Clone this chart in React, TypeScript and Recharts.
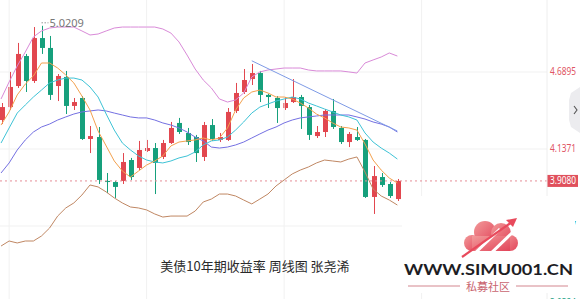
import React from 'react';
import { ComposedChart, Bar, Line, XAxis, YAxis, CartesianGrid, ReferenceLine, ReferenceDot } from 'recharts';

// ---- data (weekly bars, US 10Y yield) ----
const categories = Array.from({ length: 68 }, (_, i) => `W${i + 1}`);

const open = [4.345,4.438,4.589,4.804,4.625,4.933,4.862,4.589,4.654,4.446,4.503,4.209,4.223,3.908,3.900,3.908,4.058,4.001,4.123,4.144,4.080,4.180,4.324,4.252,4.223,4.080,4.309,4.202,4.202,4.410,4.546,4.639,4.682,4.525,4.503,4.431,4.474,4.510,4.438,4.230,4.259,4.410,4.288,4.187,4.223,4.202,3.793,3.936,3.886,3.778];
const close = [4.438,4.582,4.819,4.625,4.933,4.862,4.525,4.661,4.446,4.474,4.209,4.230,3.915,3.900,3.865,4.044,3.936,4.130,4.144,4.037,4.180,4.288,4.259,4.187,4.108,4.309,4.209,4.223,4.403,4.539,4.632,4.682,4.525,4.510,4.431,4.467,4.510,4.446,4.238,4.259,4.410,4.295,4.187,4.245,4.202,3.793,3.943,3.879,3.800,3.908];
const high = [4.467,4.690,4.898,4.819,5.012,5.0209,4.948,4.675,4.697,4.503,4.517,4.302,4.295,3.965,3.908,4.108,4.073,4.195,4.202,4.180,4.202,4.331,4.360,4.288,4.238,4.331,4.352,4.252,4.431,4.611,4.711,4.747,4.697,4.532,4.517,4.510,4.639,4.525,4.453,4.302,4.424,4.496,4.302,4.259,4.295,4.209,4.015,3.965,3.900,3.922];
const low = [4.316,4.417,4.575,4.546,4.611,4.819,4.489,4.481,4.388,4.417,4.202,4.108,3.886,3.821,3.786,3.886,3.915,3.986,4.116,3.814,4.065,4.173,4.245,4.166,4.044,4.051,4.195,4.187,4.195,4.395,4.532,4.596,4.474,4.431,4.324,4.417,4.467,4.281,4.202,4.216,4.223,4.281,4.173,4.151,4.195,3.786,3.671,3.865,3.786,3.764];

const ma5 = [4.309,4.403,4.525,4.603,4.661,4.754,4.754,4.718,4.668,4.611,4.517,4.417,4.266,4.159,4.051,3.979,3.936,3.979,4.022,4.051,4.087,4.159,4.187,4.195,4.202,4.216,4.202,4.216,4.288,4.417,4.503,4.546,4.560,4.539,4.510,4.510,4.496,4.467,4.431,4.388,4.360,4.324,4.295,4.288,4.273,4.173,4.058,3.986,3.929,3.893];
const ma10 = [4.180,4.288,4.395,4.453,4.510,4.560,4.611,4.632,4.646,4.646,4.632,4.582,4.510,4.388,4.273,4.180,4.130,4.087,4.058,4.044,4.037,4.051,4.073,4.087,4.116,4.166,4.195,4.202,4.223,4.273,4.331,4.395,4.438,4.460,4.481,4.496,4.510,4.496,4.467,4.446,4.424,4.403,4.381,4.367,4.345,4.252,4.187,4.144,4.108,4.065];
const ma20 = [3.965,4.037,4.130,4.202,4.259,4.295,4.316,4.345,4.367,4.388,4.403,4.410,4.417,4.410,4.395,4.381,4.367,4.360,4.360,4.345,4.324,4.309,4.288,4.259,4.223,4.195,4.151,4.144,4.151,4.166,4.187,4.216,4.245,4.273,4.295,4.324,4.345,4.360,4.367,4.374,4.381,4.381,4.381,4.381,4.367,4.352,4.331,4.316,4.295,4.259];
const bollUpper = [4.496,4.618,4.733,4.833,4.941,4.984,5.005,5.012,5.012,5.012,4.984,4.955,4.962,4.984,5.005,5.012,5.012,5.012,5.012,5.012,4.998,4.969,4.905,4.811,4.711,4.632,4.575,4.496,4.474,4.489,4.539,4.654,4.690,4.704,4.711,4.718,4.718,4.718,4.704,4.697,4.697,4.697,4.697,4.690,4.682,4.754,4.776,4.797,4.826,4.804];
const bollLower = [3.441,3.477,3.463,3.477,3.477,3.513,3.570,3.656,3.714,3.750,3.807,3.879,3.865,3.829,3.786,3.750,3.721,3.714,3.700,3.671,3.649,3.656,3.656,3.656,3.692,3.757,3.778,3.814,3.814,3.800,3.771,3.743,3.778,3.814,3.872,3.915,3.958,3.986,4.008,4.037,4.058,4.051,4.044,4.065,4.080,3.972,3.850,3.800,3.771,3.735];
// hand-drawn resistance line (two anchor points)
const trendLine: (number | null)[] = [null,null,null,null,null,null,null,null,null,null,null,null,null,null,null,null,null,null,null,null,null,null,null,null,null,null,null,null,null,null,null,4.770,null,null,null,null,null,null,null,null,null,null,null,null,null,null,null,null,null,4.266];

const yTicks = [3.0324, 3.5847, 4.1371, 4.6895, 5.2419];
const gridWeeks = ['W2', 'W19', 'W36', 'W53'];
const lastPrice = 3.908;
const peakLabel = '5.0209';
const peakWeek = 'W6';
const title = '美债10年期收益率 周线图 张尧浠';

const data = categories.map((name, i) => ({
  name,
  range: i < open.length ? [low[i], high[i]] : null,
  open: i < open.length ? open[i] : null,
  close: i < close.length ? close[i] : null,
  high: i < high.length ? high[i] : null,
  low: i < low.length ? low[i] : null,
  ma5: i < ma5.length ? ma5[i] : null,
  ma10: i < ma10.length ? ma10[i] : null,
  ma20: i < ma20.length ? ma20[i] : null,
  up: i < bollUpper.length ? bollUpper[i] : null,
  dn: i < bollLower.length ? bollLower[i] : null,
  trend: i < trendLine.length ? trendLine[i] : null,
}));

const RED = '#e2474f';
const GREEN = '#16a07c';

const NoDot = (p: any) => <g key={`nd-${p.index}`} />;

const Candle = (props: any) => {
  const { x, y, width, height, payload } = props;
  if (!payload || payload.open == null || !isFinite(y)) return null;
  const { open: o, close: c, high: h, low: l } = payload;
  const top = Math.min(y, y + height);
  const hh = Math.abs(height);
  const px = (v: number) => top + ((h - v) / (h - l || 1)) * hh;
  const color = c >= o ? RED : GREEN;
  const yO = px(o);
  const yC = px(c);
  const bodyTop = Math.min(yO, yC);
  const bodyH = Math.max(1, Math.abs(yO - yC));
  const cx = Math.round(x + width / 2) + 0.5;
  return (
    <g>
      <line x1={cx} x2={cx} y1={top} y2={top + hh} stroke={color} strokeWidth={1} />
      <rect x={cx - width / 2} y={bodyTop} width={width} height={bodyH} fill={color} />
    </g>
  );
};

const AxisTick = (props: any) => {
  const { x, y, payload } = props;
  const v = payload.value as number;
  return (
    <text x={x} y={y} dy={3.5} textAnchor="start" fontSize={10} fontFamily="Noto Sans, sans-serif"
      textLength={26} lengthAdjust="spacingAndGlyphs"
      fill={v > lastPrice ? '#e05563' : '#1c9f86'}>
      {v.toFixed(4)}
    </text>
  );
};

const PriceTag = (props: any) => {
  const vb = props.viewBox || {};
  const x0 = vb.x + vb.width;
  return (
    <g>
      <rect x={x0} y={vb.y - 6} width={31} height={12} fill="#e0505c" />
      <text x={x0 + 3} y={vb.y + 3.5} fontSize={10} fill="#fff" fontFamily="Noto Sans, sans-serif"
        textLength={26} lengthAdjust="spacingAndGlyphs">
        {lastPrice.toFixed(4)}
      </text>
    </g>
  );
};

const PeakMark = (props: any) => {
  const { cx, cy } = props;
  if (!isFinite(cx) || !isFinite(cy)) return null;
  return (
    <g>
      <line x1={cx} x2={cx + 7} y1={cy - 3} y2={cy - 3} stroke="#999" strokeWidth={1} strokeDasharray="1.5 1.5" />
      <text x={cx + 8} y={cy + 1} fontSize={11} fill="#777" fontFamily="Noto Sans, sans-serif">{peakLabel}</text>
    </g>
  );
};

const lineProps = { strokeWidth: 1, dot: NoDot, activeDot: false, isAnimationActive: false, legendType: 'none' as const };

export default function App() {
  return (
    <div style={{ position: 'absolute', left: 0, top: 0, width: 580, height: 299, overflow: 'hidden', background: '#fff', fontFamily: 'Noto Sans, sans-serif' }}>
      <div style={{ position: 'absolute', left: -3, top: -20 }}>
        <ComposedChart width={590} height={341} data={data} margin={{ top: 0, right: 0, bottom: 0, left: 0 }}>
          <CartesianGrid vertical={false} stroke="#f1f1f1" />
          <XAxis dataKey="name" height={1} tick={false} axisLine={false} tickLine={false} interval={0} />
          <YAxis orientation="right" width={40} domain={[2.9103, 5.3495]} allowDataOverflow ticks={yTicks}
            tick={<AxisTick />} tickLine={false} tickSize={0} tickMargin={3} axisLine={{ stroke: '#eeeeee' }} />
          {gridWeeks.map((w) => (
            <ReferenceLine key={w} x={w} stroke="#f1f1f1" />
          ))}
          <ReferenceLine y={lastPrice} stroke="#e58e98" strokeDasharray="2 3" label={<PriceTag />} />
          <Line dataKey="up" stroke="#d98ad8" {...lineProps} />
          <Line dataKey="dn" stroke="#c08763" {...lineProps} />
          <Line dataKey="ma20" stroke="#7470e2" {...lineProps} />
          <Line dataKey="ma10" stroke="#3ec3d6" {...lineProps} />
          <Line dataKey="ma5" stroke="#f3a14e" {...lineProps} />
          <Line dataKey="trend" stroke="#7e9be6" {...lineProps} connectNulls />
          <Bar dataKey="range" barSize={5} shape={<Candle />} isAnimationActive={false} />
          <ReferenceDot x={peakWeek} y={5.0209} r={1} shape={<PeakMark />} />
        </ComposedChart>
      </div>

      <div style={{ position: 'absolute', left: 150, top: 257, width: 210, textAlign: 'center', fontSize: 13, lineHeight: '18px', color: '#2a2a2a', fontFamily: '"Noto Sans CJK SC", sans-serif' }}>
        {title}
      </div>

      <svg width={580} height={299} style={{ position: 'absolute', left: 0, top: 0, pointerEvents: 'none' }}>
        <defs>
          <linearGradient id="cloudG" x1="0" y1="0" x2="1" y2="1">
            <stop offset="0" stopColor="#f29a9a" />
            <stop offset="1" stopColor="#e2455a" />
          </linearGradient>
        </defs>
        {/* side tab */}
        <path d="M580,87 L571,93 L569,100 L569,120 L571,127 L580,133 Z" fill="#ececef" />
        <polyline points="574,106 577,110 574,114" fill="none" stroke="#555" strokeWidth={1.1} />
        {/* watermark */}
        <rect x={402} y={196} width={173} height={97} fill="#fff" />
        <g fill="url(#cloudG)">
          <circle cx={472} cy={243} r={8} />
          <circle cx={485} cy={232} r={11} />
          <circle cx={501} cy={233} r={10} />
          <circle cx={510} cy={243} r={8} />
          <rect x={472} y={236} width={38} height={15} />
        </g>
        <line x1={470} y1={258} x2={500} y2={229} stroke="#fff" strokeWidth={3} />
        <line x1={486} y1={258} x2={516} y2={229} stroke="#fff" strokeWidth={3} />
        <line x1={462} y1={257} x2={512} y2={222} stroke="#e84a5c" strokeWidth={2.2} />
        <polygon points="517,218 506,220 513,227" fill="#e84a5c" />
        <text x={404} y={275} fontSize={16} fontWeight={700} fill="#1d1d24" fontFamily="Lato, sans-serif"
          textLength={169} lengthAdjust="spacingAndGlyphs">WWW.SIMU001.CN</text>
        <line x1={408} y1={286} x2={460} y2={286} stroke="#d3868f" strokeWidth={1} />
        <line x1={516} y1={286} x2={568} y2={286} stroke="#d3868f" strokeWidth={1} />
        <text x={488} y={291} textAnchor="middle" fontSize={11} fill="#c9646f" fontFamily='"Noto Sans CJK SC", sans-serif'>私募社区</text>
      </svg>
    </div>
  );
}
